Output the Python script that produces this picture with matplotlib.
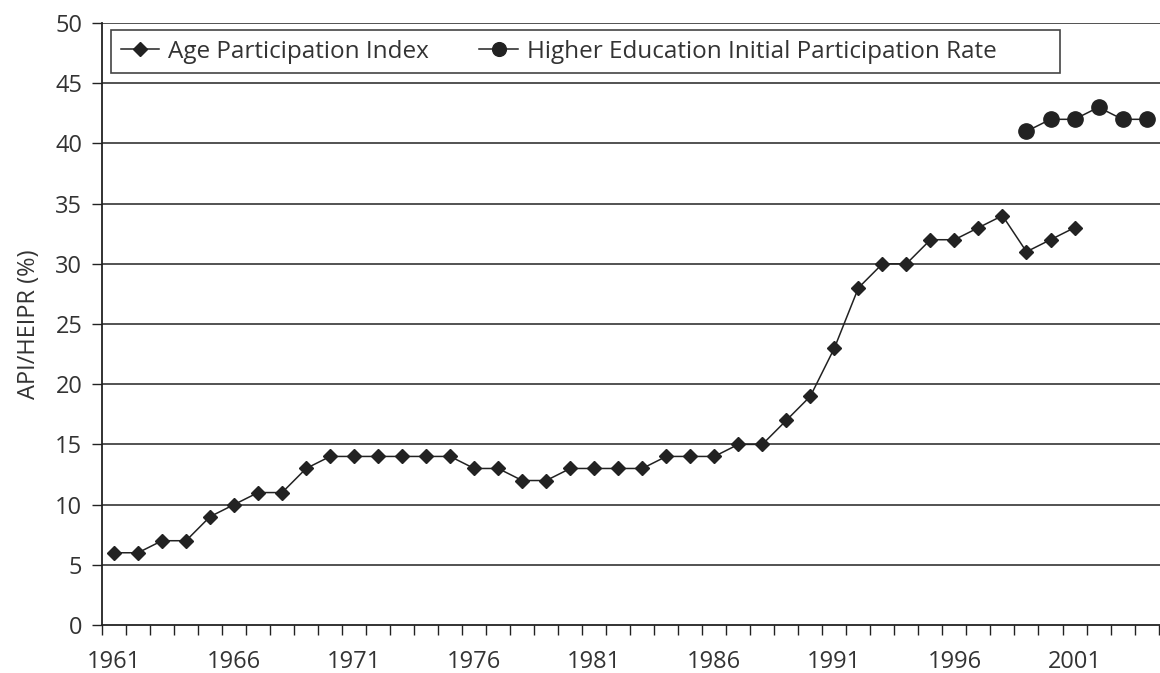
import matplotlib.pyplot as plt
from matplotlib.patches import Rectangle
import numpy as np

plt.rcParams['font.family'] = ['Open Sans', 'DejaVu Sans']

# Data
api_years = list(range(1961, 2002))
api_values = [6, 6, 7, 7, 9, 10, 11, 11, 13, 14,
              14, 14, 14, 14, 14, 13, 13, 12, 12, 13,
              13, 13, 13, 14, 14, 14, 15, 15, 17, 19,
              23, 28, 30, 30, 32, 32, 33, 34, 31, 32, 33]
heipr_years = list(range(1999, 2005))
heipr_values = [41, 42, 42, 43, 42, 42]
tick_years = [1961, 1966, 1971, 1976, 1981, 1986, 1991, 1996, 2001]

text_col = '#333333'
line_col = '#222222'
fs = 17

fig = plt.figure(figsize=(11.6, 6.73), dpi=100)
ax = fig.add_axes([102 / 1160, 48 / 673, (1160 - 102) / 1160, (625 - 23) / 673])

# gridlines
for y in range(5, 51, 5):
    ax.axhline(y, color='#444444', lw=1.3, zorder=1)

ax.plot(api_years, api_values, color=line_col, lw=1.1, marker='D', ms=7.6,
        mfc=line_col, mec=line_col, label='Age Participation Index', zorder=3)
ax.plot(heipr_years, heipr_values, color=line_col, lw=1.1, marker='o', ms=11,
        mfc=line_col, mec=line_col, label='Higher Education Initial Participation Rate', zorder=3)

ax.set_xlim(1960.5, 2004.56)
ax.set_ylim(0, 50)

ax.set_yticks(range(0, 51, 5))
ax.set_xticks(tick_years)
ax.set_xticks(np.arange(1960.5, 2004.6, 1), minor=True)
ax.tick_params(axis='x', which='major', length=0, pad=18, labelsize=fs, labelcolor=text_col)
ax.tick_params(axis='x', which='minor', length=7.5, width=1, color=line_col, direction='out')
ax.tick_params(axis='y', length=7.2, width=1, color=line_col, pad=7, labelsize=fs, labelcolor=text_col)

for s in ['top', 'right']:
    ax.spines[s].set_visible(False)
ax.spines['left'].set_color(line_col)
ax.spines['bottom'].set_color(line_col)
ax.spines['left'].set_linewidth(1.3)
ax.spines['bottom'].set_linewidth(1.3)

ax.set_ylabel('API/HEIPR (%)', fontsize=fs, color=text_col, labelpad=10)

# legend box (Excel-style, wider than its content)
ax.add_patch(Rectangle((0.0082, 0.917), 0.8973, 0.0714, transform=ax.transAxes,
                       facecolor='white', edgecolor='#444444', lw=1.2, zorder=4))
leg = ax.legend(loc='center left', bbox_to_anchor=(0.0175, 0.952), ncol=2, frameon=False,
                fontsize=17.5, markerscale=0.9, handlelength=1.6, columnspacing=2.05,
                borderpad=0, handletextpad=0.37, borderaxespad=0)
leg.set_zorder(5)
for t in leg.get_texts():
    t.set_color(text_col)

plt.savefig('out.png', dpi=100)
